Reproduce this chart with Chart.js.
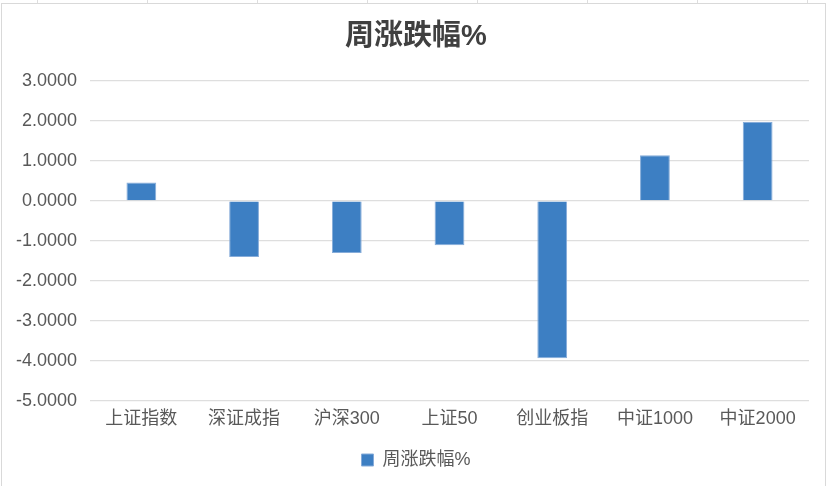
<!DOCTYPE html>
<html>
<head>
<meta charset="utf-8">
<script src="https://cdn.jsdelivr.net/npm/chart.js@4.4.1/dist/chart.umd.min.js"></script>
<style>
  html, body { margin: 0; padding: 0; background: #fff; overflow: hidden; }
  #sheet {
    position: absolute; left: 0; top: 0; width: 832px; height: 3px;
    background: repeating-linear-gradient(to right, transparent 0, transparent 36px, #dedede 36px, #dedede 37px, transparent 37px, transparent 110px);
    background-position: 1px 0;
  }
  #frame {
    position: absolute; left: 1px; top: 3px; width: 823px; height: 500px;
    border: 1px solid #d9d9d9; background: #fff;
  }
  #wrap { position: absolute; left: 0; top: 0; width: 832px; height: 486px; }
</style>
</head>
<body>
<div id="sheet"></div>
<div id="frame"></div>
<div id="wrap"><canvas id="weeklyChart" width="832" height="486"></canvas></div>
<script>
// Weekly change by index (%)
const categories = ['上证指数', '深证成指', '沪深300', '上证50', '创业板指', '中证1000', '中证2000'];
const weeklyChange = [0.46, -1.40, -1.30, -1.11, -3.93, 1.14, 1.97];
const seriesName = '周涨跌幅%';
const yTicks = [3, 2, 1, 0, -1, -2, -3, -4, -5];

const FONT = '"Liberation Sans", "Noto Sans CJK SC", sans-serif';
const TEXT_GREY = '#595959';

// y labels stick out past the narrowed axis box; widen its clip area after layout
const unclipYLabels = {
    id: 'unclipYLabels',
    afterLayout(chart) {
        chart.scales.y.left = 0;
    }
};

const ctx = document.getElementById('weeklyChart').getContext('2d');
const weeklyChart = new Chart(ctx, {
    type: 'bar',
    data: {
        labels: categories,
        datasets: [{
            label: seriesName,
            data: weeklyChange,
            backgroundColor: '#3d7fc3',
            borderColor: '#86acd9',
            borderWidth: 1,
            categoryPercentage: 1,
            barPercentage: 0.29
        }]
    },
    options: {
        responsive: false,
        animation: false,
        // equal side padding keeps title and legend centred on the page
        layout: { padding: { left: 23, right: 23, top: 0, bottom: 7 } },
        plugins: {
            title: {
                display: true,
                text: seriesName,
                color: '#404040',
                font: { family: FONT, size: 29, weight: 'bold' },
                padding: { top: 20, bottom: 26 }
            },
            legend: {
                position: 'bottom',
                labels: {
                    color: TEXT_GREY,
                    font: { family: FONT, size: 18 },
                    boxWidth: 12,
                    boxHeight: 12,
                    padding: 10
                }
            },
            tooltip: { enabled: false }
        },
        scales: {
            y: {
                min: -5,
                max: 3,
                afterFit: scale => { scale.width = 67; },
                afterBuildTicks: scale => {
                    scale.ticks = yTicks.map(v => ({ value: v }));
                },
                ticks: {
                    color: TEXT_GREY,
                    font: { family: FONT, size: 18 },
                    padding: 13,
                    callback: v => Number(v).toFixed(4)
                },
                grid: { color: '#dedede', lineWidth: 1.3, drawTicks: false },
                border: { display: false }
            },
            x: {
                afterFit: scale => { scale.height = 40; },
                ticks: {
                    color: TEXT_GREY,
                    font: { family: FONT, size: 18 },
                    padding: 7
                },
                grid: { display: false, drawTicks: false },
                border: { display: false }
            }
        }
    },
    plugins: [unclipYLabels]
});
</script>
</body>
</html>
